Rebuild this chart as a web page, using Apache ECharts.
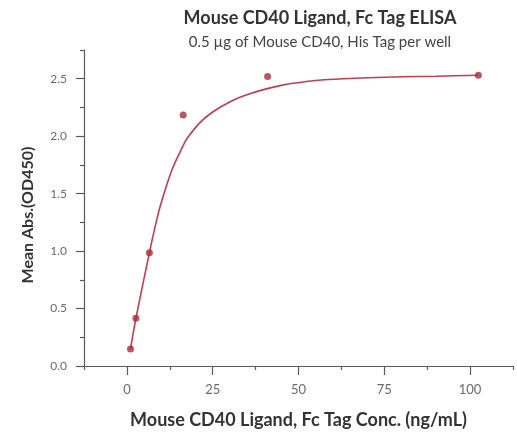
<!DOCTYPE html>
<html>
<head>
<meta charset="utf-8">
<script src="https://cdn.jsdelivr.net/npm/echarts@6/dist/echarts.min.js"></script>
<style>
html,body{margin:0;padding:0;background:#fff;}
#chart{width:517px;height:439px;}
</style>
</head>
<body>
<div id="chart"></div>
<script>
// Measured points
const conc = [1.05, 2.62, 6.55, 16.4, 41.0, 102.4];
const meanAbs = [0.148, 0.415, 0.985, 2.185, 2.52, 2.53];
// Fitted curve
const fitConc = [1.05, 2.62, 6.55, 8.24, 9.70, 11.65, 13.57, 16.49, 17.5, 21.35, 25.2, 30.1, 34.95, 39.8, 44.65, 48.4, 55, 63, 77.7, 90, 102.4];
const fitAbs  = [0.148, 0.415, 0.985, 1.215, 1.39, 1.58, 1.74, 1.925, 1.98, 2.12, 2.215, 2.30, 2.36, 2.405, 2.44, 2.46, 2.485, 2.50, 2.515, 2.522, 2.53];
// Ticks
const xMajorTicks = [0, 25, 50, 75, 100];
const xMinorTicks = [-12.5, 12.5, 37.5, 62.5, 87.5, 112.5];
const yMajorTicks = [0, 0.5, 1.0, 1.5, 2.0, 2.5];
const yMinorTicks = [0.25, 0.75, 1.25, 1.75, 2.25, 2.75];

const titleText = 'Mouse CD40 Ligand, Fc Tag ELISA';
const subtitleText = '0.5 \u00b5g of Mouse CD40, His Tag per well';
const xName = 'Mouse CD40 Ligand, Fc Tag Conc. (ng/mL)';
const yName = 'Mean Abs.(OD450)';

const FONT = 'Lato, "Liberation Sans", Arial, sans-serif';
const axisColor = '#5a5a5a';
const labelColor = '#6a6a6a';

const chart = echarts.init(document.getElementById('chart'), null, {renderer: 'canvas'});
chart.setOption({
  animation: false,
  backgroundColor: '#ffffff',
  title: {
    text: titleText,
    subtext: subtitleText,
    left: 315,
    top: 4,
    textAlign: 'center',
    itemGap: 8,
    textStyle: {fontFamily: FONT, fontSize: 18, fontWeight: 'bold', color: '#333333'},
    subtextStyle: {fontFamily: FONT, fontSize: 15, color: '#444444'}
  },
  grid: {left: 84, right: 4, top: 50, bottom: 73, containLabel: false},
  xAxis: [
    {
      type: 'value', min: -12.5, max: 112.5,
      name: xName, nameLocation: 'middle', nameGap: 45,
      nameTextStyle: {fontFamily: FONT, fontSize: 18, fontWeight: 'bold', color: '#333333'},
      axisLine: {show: true, onZero: false, lineStyle: {color: axisColor, width: 1.2}},
      axisTick: {show: true, length: 9, customValues: xMajorTicks, lineStyle: {color: axisColor, width: 1.2}},
      axisLabel: {customValues: xMajorTicks, margin: 17, color: labelColor, fontFamily: FONT, fontSize: 13},
      splitLine: {show: false}
    },
    {
      type: 'value', min: -12.5, max: 112.5, position: 'bottom',
      axisLine: {show: false},
      axisTick: {show: true, length: 4, customValues: xMinorTicks, lineStyle: {color: axisColor, width: 1.2}},
      axisLabel: {show: false},
      splitLine: {show: false}
    }
  ],
  yAxis: [
    {
      type: 'value', min: 0, max: 2.75,
      name: yName, nameLocation: 'middle', nameGap: 48, nameRotate: 90,
      nameTextStyle: {fontFamily: FONT, fontSize: 16, fontWeight: 'bold', color: '#333333', padding: [0, 14, 0, 0]},
      axisLine: {show: true, onZero: false, lineStyle: {color: axisColor, width: 1.2}},
      axisTick: {show: true, length: 8, customValues: yMajorTicks, lineStyle: {color: axisColor, width: 1.2}},
      axisLabel: {customValues: yMajorTicks, margin: 17, color: labelColor, fontFamily: FONT, fontSize: 12,
                  formatter: v => v.toFixed(1)},
      splitLine: {show: false}
    },
    {
      type: 'value', min: 0, max: 2.75, position: 'left',
      axisLine: {show: false, onZero: false},
      axisTick: {show: true, length: 4, customValues: yMinorTicks, lineStyle: {color: axisColor, width: 1.2}},
      axisLabel: {show: false},
      splitLine: {show: false}
    }
  ],
  series: [
    {
      type: 'line',
      data: fitConc.map((x, i) => [x, fitAbs[i]]),
      showSymbol: false,
      smooth: 0.3,
      lineStyle: {color: '#c23d4e', width: 1.6},
      z: 2
    },
    {
      type: 'scatter',
      data: conc.map((x, i) => [x, meanAbs[i]]),
      symbol: 'circle',
      symbolSize: 7,
      itemStyle: {color: '#a82b3f'},
      z: 3
    }
  ]
});
</script>
</body>
</html>
